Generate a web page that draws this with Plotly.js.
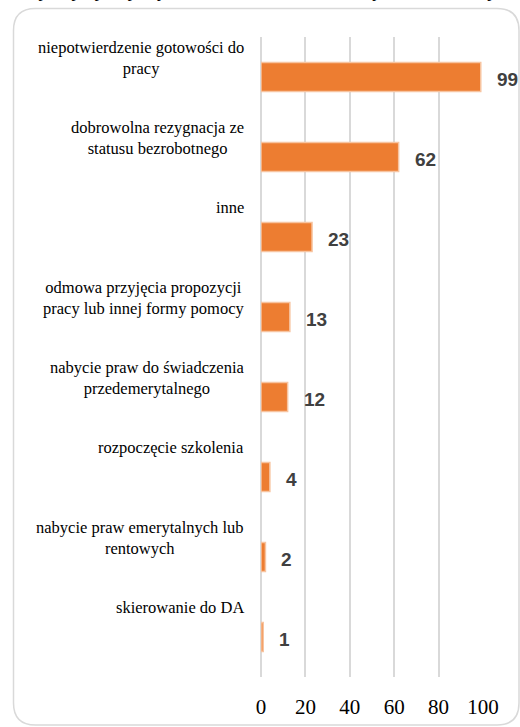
<!DOCTYPE html>
<html>
<head>
<meta charset="utf-8">
<script src="https://cdn.plot.ly/plotly-3.0.1.min.js"></script>
<style>html,body{margin:0;padding:0;background:#fff;}#chart{width:520px;height:727px;}</style>
</head>
<body>
<div id="chart"></div>
<script>
// ---- data ----
const titleText = "Przyczyny wyrejestrowania z ewidencji bezrobotnych";
const categories = [
  "niepotwierdzenie gotowości do<br>pracy",
  "dobrowolna rezygnacja ze<br>statusu bezrobotnego",
  "inne",
  "odmowa przyjęcia propozycji<br>pracy lub innej formy pomocy",
  "nabycie praw do świadczenia<br>przedemerytalnego",
  "rozpoczęcie szkolenia",
  "nabycie praw emerytalnych lub<br>rentowych",
  "skierowanie do DA"
];
const values = [99, 62, 23, 13, 12, 4, 2, 1];
const xTicks = [0, 20, 40, 60, 80, 100];

// ---- layout geometry ----
const W = 520, H = 727;
const M = {l: 261, r: 37, t: 37, b: 50};
const pw = W - M.l - M.r, ph = H - M.t - M.b;
const px2x = p => (p - M.l) / pw;
const py2y = p => (H - M.b - p) / ph;

function roundedRect(x0, y0, x1, y1, r) {
  const X = px2x, Y = py2y;
  return `M ${X(x0 + r)},${Y(y0)} L ${X(x1 - r)},${Y(y0)} Q ${X(x1)},${Y(y0)} ${X(x1)},${Y(y0 + r)} ` +
         `L ${X(x1)},${Y(y1 - r)} Q ${X(x1)},${Y(y1)} ${X(x1 - r)},${Y(y1)} ` +
         `L ${X(x0 + r)},${Y(y1)} Q ${X(x0)},${Y(y1)} ${X(x0)},${Y(y1 - r)} ` +
         `L ${X(x0)},${Y(y0 + r)} Q ${X(x0)},${Y(y0)} ${X(x0 + r)},${Y(y0)} Z`;
}

const trace = {
  type: 'bar',
  orientation: 'h',
  x: values,
  y: categories,
  width: 0.36,
  marker: {color: '#ED7D31', line: {color: '#F7C4A0', width: 1.5}},
  hoverinfo: 'none',
  cliponaxis: false
};

const annotations = [];
categories.forEach((c, i) => {
  annotations.push({
    xref: 'paper', yref: 'y', x: 0, y: i - 0.5,
    xanchor: 'right', yanchor: 'top', xshift: -15, yshift: 1,
    align: 'center', showarrow: false, text: c,
    font: {family: 'Liberation Serif, serif', size: 16.5, color: '#000'}
  });
  annotations.push({
    xref: 'x', yref: 'y', x: values[i], y: c,
    xanchor: 'left', yanchor: 'middle', xshift: 14, yshift: -2,
    showarrow: false, text: String(values[i]),
    font: {family: 'Liberation Sans, Arial, sans-serif', size: 19, color: '#404040', weight: 'bold'}
  });
});
annotations.push({
  xref: 'paper', yref: 'paper', x: px2x(265), y: 1,
  xanchor: 'center', yanchor: 'middle', yshift: M.t + 12,
  showarrow: false, text: '<i>' + titleText + '</i>',
  font: {family: 'Liberation Sans, sans-serif', size: 22, color: '#000'}
});

const layout = {
  width: W, height: H,
  margin: M,
  paper_bgcolor: '#fff', plot_bgcolor: '#fff',
  showlegend: false,
  xaxis: {
    range: [0, 100], tickvals: xTicks, ticktext: xTicks.map(String),
    showgrid: true, gridcolor: '#D9D9D9', gridwidth: 2,
    zeroline: true, zerolinecolor: '#D9D9D9', zerolinewidth: 2,
    showline: false, ticks: '', ticklabelstandoff: 15,
    tickfont: {family: 'Liberation Serif, serif', size: 21, color: '#000'},
    fixedrange: true
  },
  yaxis: {
    type: 'category', autorange: false,
    range: [categories.length - 0.5, -0.5],
    showticklabels: false, showgrid: false, zeroline: false, showline: false, ticks: '',
    fixedrange: true
  },
  annotations: annotations,
  shapes: [{
    type: 'path', xref: 'paper', yref: 'paper',
    path: roundedRect(13.5, 8.5, 519, 725, 22),
    line: {color: '#D9D9D9', width: 1.5}, fillcolor: 'rgba(0,0,0,0)', layer: 'below'
  }]
};

Plotly.newPlot('chart', [trace], layout, {staticPlot: true, displayModeBar: false});
</script>
</body>
</html>
